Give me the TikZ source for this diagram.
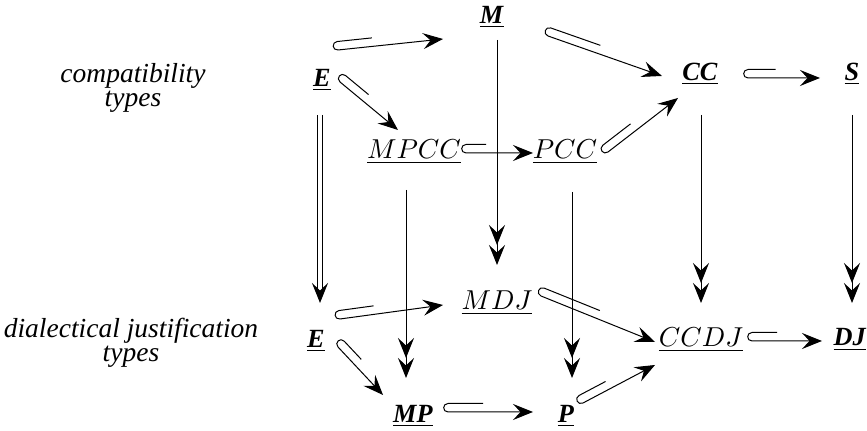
\documentclass[tikz,border=0pt]{standalone}
\usepackage{fontspec}
\setmainfont{Liberation Serif}
\usetikzlibrary{arrows.meta,calc}
\newcommand{\hookar}[3][14]{%
  \path (#2) coordinate (hs) (#3) coordinate (he);
  \path ($(hs)!3.4pt!90:(he)$) coordinate (hb);
  \draw[ar] ($(hb)!#1pt!90:(hs)$) -- (hb)
    .. controls ($(hb)!2.3pt!-90:(hs)$) and ($(hs)!2.3pt!180:(he)$) .. (hs) -- (he);}
\newcommand{\obj}[1]{\underline{\textbf{\textit{#1}}}}
\begin{document}
\begin{tikzpicture}[x=0.4pt,y=0.4pt,
  every node/.style={inner sep=0pt,font=\fontsize{10.5}{9}\selectfont},
  side/.style={align=center,font=\fontsize{11}{9.5}\selectfont\itshape},
  ar/.style={-{Stealth[length=8pt,width=6.4pt,inset=3pt]}},
  twohead/.style={-{Stealth[length=8pt,width=6.4pt,inset=3pt]Stealth[length=8pt,width=6.4pt,inset=3pt]}},
  dbl/.style={double,double distance=1.6pt,-{Stealth[length=8pt,width=6.4pt,inset=3pt]}}]
\useasboundingbox (0,0) rectangle (867,431);
\node[side] (ct) at (133,343) {compatibility\\types};
\node[side] (djt) at (131,88) {dialectical justification\\types};
\node (E1) at (322,351) {\obj{E}};
\node (M) at (492,414) {\obj{M}};
\node (CC) at (700,357) {\obj{CC}};
\node (S) at (852,357) {\obj{S}};
\node (MPCC) at (414,279) {$\underline{MPCC}$};
\node (PCC) at (565,279) {$\underline{PCC}$};
\node (MDJ) at (497,128) {$\underline{MDJ}$};
\node (E2) at (316,90) {\obj{E}};
\node (CCDJ) at (701,91) {$\underline{CCDJ}$};
\node (DJ) at (850,91) {\obj{DJ}};
\node (MP) at (413,15) {\obj{MP}};
\node (P) at (566,15) {\obj{P}};
\hookar{[shift={(16,30)}]E1.center}{[shift={(-49,-22)}]M.center}
\hookar[12]{[shift={(18,-2)}]E1.center}{[shift={(-16,22)}]MPCC.center}
\hookar[21]{[shift={(56,-19)}]M.center}{[shift={(-38,-2)}]CC.center}
\hookar[11]{[shift={(48,-4)}]CC.center}{[shift={(-32,-4)}]S.center}
\hookar[8]{[shift={(52,-1)}]MPCC.center}{[shift={(-32,-1)}]PCC.center}
\hookar{[shift={(43,0)}]PCC.center}{[shift={(-22,-24)}]CC.center}
\hookar{[shift={(24,22)}]E2.center}{[shift={(-54,-2)}]MDJ.center}
\hookar[10]{[shift={(22,-6)}]E2.center}{[shift={(-30,21)}]MP.center}
\hookar[24]{[shift={(44,7)}]MDJ.center}{[shift={(-46,-2)}]CCDJ.center}
\hookar[10]{[shift={(51,-1)}]CCDJ.center}{[shift={(-28,-1)}]DJ.center}
\hookar{[shift={(35,4)}]MP.center}{[shift={(-33,4)}]P.center}
\hookar[12]{[shift={(17,13)}]P.center}{[shift={(-46,-25)}]CCDJ.center}
\draw[dbl] ([shift={(-2,-35)}]E1.center) -- ([shift={(4,38)}]E2.center);
\draw[twohead] ([shift={(5,-23)}]M.center) -- ([shift={(0,38)}]MDJ.center);
\draw[twohead] ([shift={(-8,-38)}]MPCC.center) -- ([shift={(-7,38)}]MP.center);
\draw[twohead] ([shift={(7,-40)}]PCC.center) -- ([shift={(6,38)}]P.center);
\draw[twohead] ([shift={(1,-41)}]CC.center) -- ([shift={(0,37)}]CCDJ.center);
\draw[twohead] ([shift={(0,-41)}]S.center) -- ([shift={(2,37)}]DJ.center);
\end{tikzpicture}
\end{document}
